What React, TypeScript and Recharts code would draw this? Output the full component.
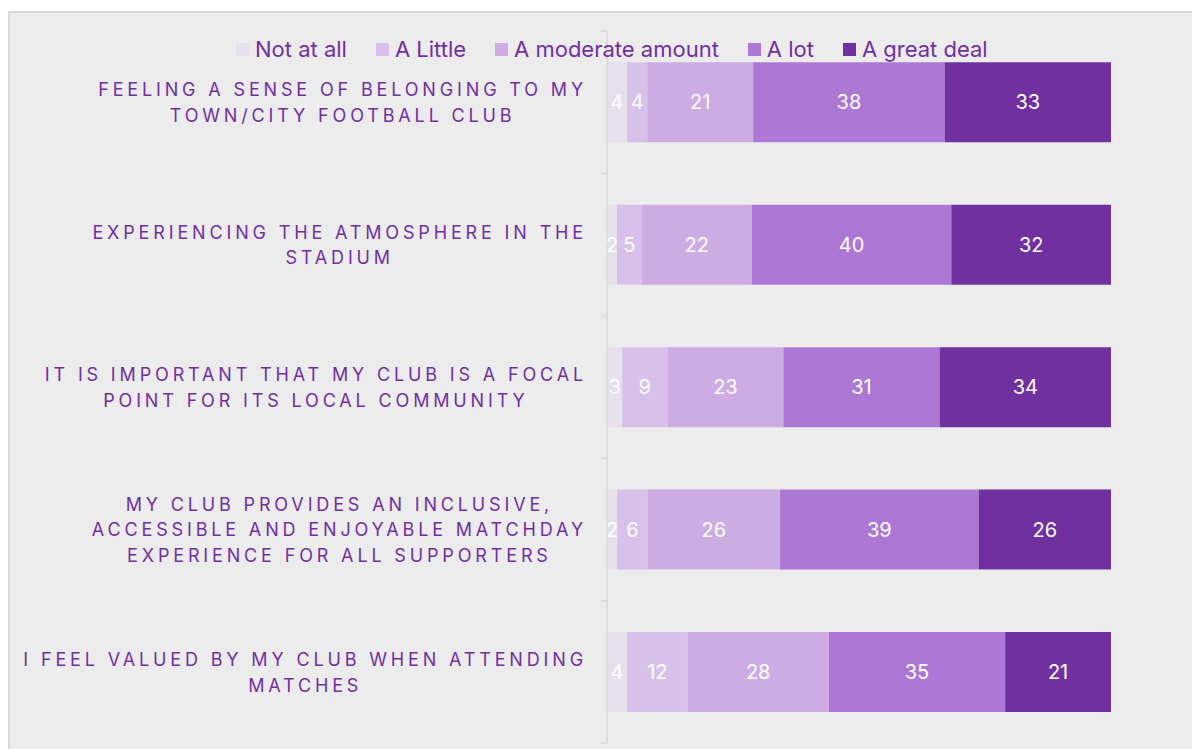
import React from "react";
import { BarChart, Bar, XAxis, YAxis, Legend, LabelList } from "recharts";

const categories = [
  "FEELING A SENSE OF BELONGING TO MY\nTOWN/CITY FOOTBALL CLUB",
  "EXPERIENCING THE ATMOSPHERE IN THE\nSTADIUM",
  "IT IS IMPORTANT THAT MY CLUB IS A FOCAL\nPOINT FOR ITS LOCAL COMMUNITY",
  "MY CLUB PROVIDES AN INCLUSIVE,\nACCESSIBLE AND ENJOYABLE MATCHDAY\nEXPERIENCE FOR ALL SUPPORTERS",
  "I FEEL VALUED BY MY CLUB WHEN ATTENDING\nMATCHES",
];
const notAtAll = [4, 2, 3, 2, 4];
const aLittle = [4, 5, 9, 6, 12];
const moderate = [21, 22, 23, 26, 28];
const aLot = [38, 40, 31, 39, 35];
const greatDeal = [33, 32, 34, 26, 21];

const seriesNames = ["Not at all", "A Little", "A moderate amount", "A lot", "A great deal"];
const seriesKeys = ["notAtAll", "aLittle", "moderate", "aLot", "greatDeal"];
const seriesColors = ["#e6e0ec", "#d7c0e9", "#ccace3", "#ad78d5", "#7030a0"];

const data = categories.map((name, i) => ({
  name,
  notAtAll: notAtAll[i],
  aLittle: aLittle[i],
  moderate: moderate[i],
  aLot: aLot[i],
  greatDeal: greatDeal[i],
}));

const FONT = "Inter, 'Noto Sans', sans-serif";
const PURPLE = "#7030a0";
const W = 1190;
const H = 736;
const MARGIN = { top: 18, right: 89, bottom: 6, left: 0 };
const YAXIS_W = 597;
const BAND = (H - MARGIN.top - MARGIN.bottom) / categories.length;
const LABEL_FS = 18;
const LABEL_LS = 3.85;
const LINE_H = 25.5;
const LABEL_RIGHT = YAXIS_W - 20;

let ctx: CanvasRenderingContext2D | null = null;
function measure(s: string) {
  if (!ctx) {
    const c = document.createElement("canvas");
    ctx = c.getContext("2d");
  }
  if (!ctx) return s.length * 12;
  ctx.font = `${LABEL_FS}px Inter`;
  return ctx.measureText(s).width + LABEL_LS * s.length;
}

const CategoryTick = (props: any) => {
  const { y, payload, index } = props;
  const lines = String(payload.value).split("\n");
  const maxW = Math.max(...lines.map(measure));
  const cx = LABEL_RIGHT - maxW / 2;
  const startY = y - ((lines.length - 1) * LINE_H) / 2;
  const ax = MARGIN.left + YAXIS_W;
  return (
    <g>
      <line x1={ax - 6} x2={ax} y1={y - BAND / 2} y2={y - BAND / 2} stroke="#d9d9d9" strokeWidth={1.5} />
      {index === categories.length - 1 && (
        <line x1={ax - 6} x2={ax} y1={y + BAND / 2} y2={y + BAND / 2} stroke="#d9d9d9" strokeWidth={1.5} />
      )}
      <text
        x={cx}
        y={startY}
        textAnchor="middle"
        dominantBaseline="central"
        fill={PURPLE}
        fontSize={LABEL_FS}
        letterSpacing={LABEL_LS}
        fontFamily={FONT}
      >
        {lines.map((l, i) => (
          <tspan key={i} x={cx} y={startY + i * LINE_H}>
            {l}
          </tspan>
        ))}
      </text>
    </g>
  );
};

const LegendContent = () => (
  <div style={{ display: "flex", alignItems: "center", fontFamily: FONT, fontSize: 22, color: PURPLE, whiteSpace: "nowrap" }}>
    {seriesNames.map((n, i) => (
      <div key={n} style={{ display: "flex", alignItems: "center", marginRight: 29 }}>
        <span style={{ display: "inline-block", width: 13, height: 13, background: seriesColors[i], marginRight: 6 }} />
        <span>{n}</span>
      </div>
    ))}
  </div>
);

export default function App() {
  return (
    <div
      style={{
        marginTop: 3,
        width: 1190,
        height: 736,
        background: "#ececec",
        borderTop: "2px solid #d9d9d9",
        borderLeft: "2px solid #d9d9d9",
        fontFamily: FONT,
        overflow: "hidden",
      }}
    >
      <BarChart
        width={W}
        height={H}
        data={data}
        layout="vertical"
        stackOffset="expand"
        barCategoryGap="22%"
        margin={MARGIN}
      >
        <XAxis type="number" domain={[0, 1]} hide />
        <YAxis
          type="category"
          dataKey="name"
          width={YAXIS_W}
          axisLine={{ stroke: "#d9d9d9", strokeWidth: 1.5 }}
          tickLine={false}
          tick={<CategoryTick />}
          interval={0}
        />
        <Legend
          verticalAlign="middle"
          layout="horizontal"
          content={<LegendContent />}
          wrapperStyle={{ top: 23, left: 226, width: 900, height: 28 }}
        />
        {seriesKeys.map((k, i) => (
          <Bar key={k} dataKey={k} name={seriesNames[i]} stackId="a" fill={seriesColors[i]} isAnimationActive={false}>
            <LabelList dataKey={k} position="center" fill="#ffffff" fontSize={20} fontFamily={FONT} />
          </Bar>
        ))}
      </BarChart>
    </div>
  );
}
